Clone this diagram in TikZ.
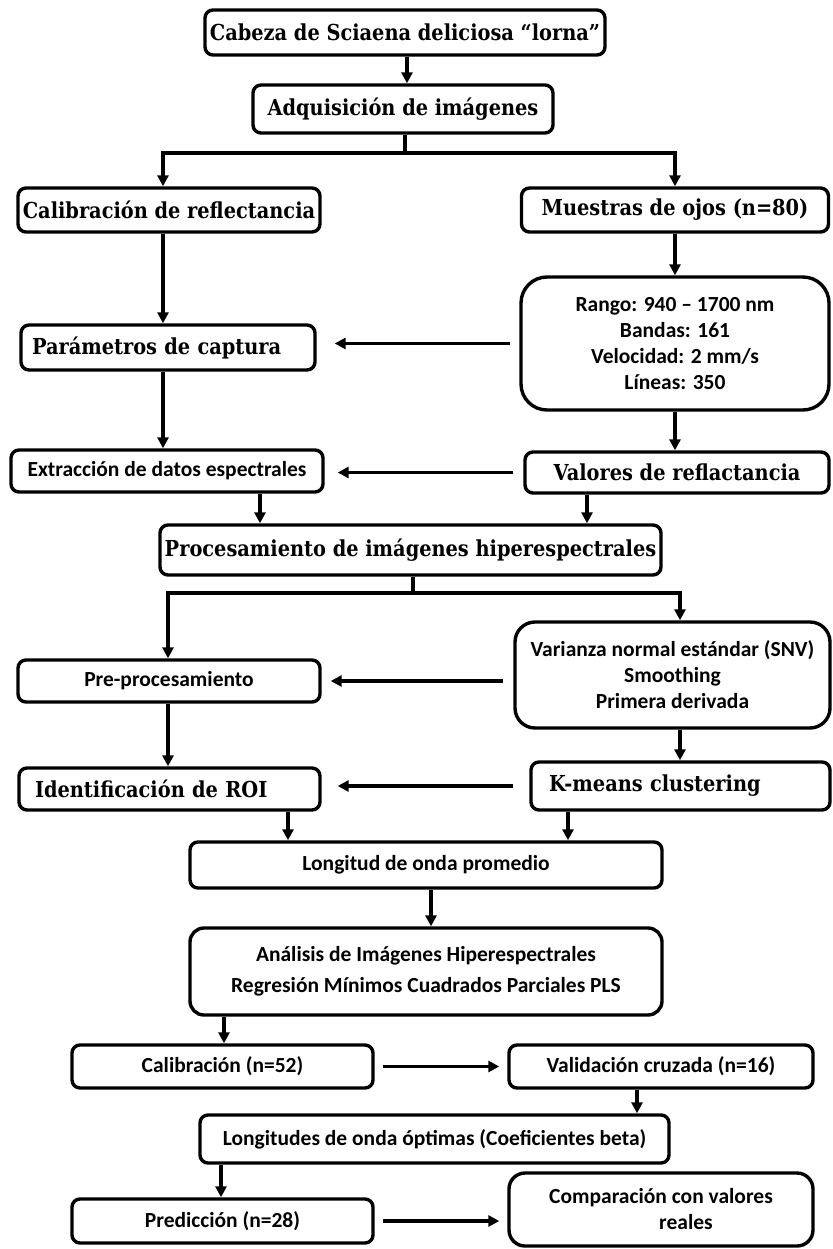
\documentclass[tikz,border=0pt]{standalone}
\usepackage{fontspec}
\setmainfont{Carlito}
\newfontfamily\hfont{DejaVu Serif}[FakeStretch=0.88]
\usetikzlibrary{arrows.meta}
\begin{document}
\begin{tikzpicture}[x=1pt,y=-1pt,
  box/.style={draw,line width=3.4pt,rounded corners=8pt,inner sep=0pt,align=center},
  hb/.style={box,font=\hfont\bfseries\fontsize{22}{26}\selectfont},
  bb/.style={box,font=\bfseries\fontsize{21.5}{26}\selectfont},
  arr/.style={line width=3.1pt,-{Triangle[length=11pt,width=11pt]}},
  ln/.style={line width=3.1pt}]
\fill[white] (0,0) rectangle (832,1249);
\useasboundingbox (0,0) rectangle (832,1249);

% nodes
\node[hb,minimum width=400pt,minimum height=45pt] (cabeza) at (405,32.5) {Cabeza de Sciaena deliciosa “lorna”};
\node[hb,minimum width=300pt,minimum height=48pt] (adq) at (403,109) {Adquisición de imágenes};
\node[hb,minimum width=302pt,minimum height=44pt] (calref) at (169,210) {Calibración de reflectancia};
\node[hb,minimum width=307pt,minimum height=44pt] (muestras) at (675,210) {Muestras de ojos (n=80)};
\node[bb,rounded corners=26pt,minimum width=308pt,minimum height=133pt] (rango) at (675,343.5) {Rango: 940 – 1700 nm\\Bandas: 161\\Velocidad: 2 mm/s\\Líneas: 350};
\node[hb,minimum width=294pt,minimum height=45pt,text width=272pt,align=left] (param) at (168,347.5) {Parámetros de captura};
\node[bb,minimum width=312pt,minimum height=42pt] (extr) at (167,471) {Extracción de datos espectrales};
\node[hb,minimum width=304pt,minimum height=41pt] (valores) at (677,472.5) {Valores de reflactancia};
\node[hb,minimum width=501pt,minimum height=50pt] (proc) at (410.5,550) {Procesamiento de imágenes hiperespectrales};
\node[bb,minimum width=302pt,minimum height=42pt] (preproc) at (169,681) {Pre-procesamiento};
\node[bb,rounded corners=20pt,minimum width=315pt,minimum height=106pt] (varianza) at (672.5,675) {Varianza normal estándar (SNV)\\Smoothing\\Primera derivada};
\node[hb,minimum width=301pt,minimum height=42pt,text width=269pt,align=left] (roi) at (169.5,789) {Identificación de ROI};
\node[hb,minimum width=299pt,minimum height=48pt,text width=263pt,align=left] (kmeans) at (680.5,786) {K-means clustering};
\node[bb,minimum width=472pt,minimum height=46pt] (longitud) at (426,865) {Longitud de onda promedio};
\node[bb,rounded corners=14pt,minimum width=472pt,minimum height=87pt,font=\bfseries\fontsize{21.5}{31}\selectfont] (analisis) at (426,971.5) {Análisis de Imágenes Hiperespectrales\\Regresión Mínimos Cuadrados Parciales PLS};
\node[bb,minimum width=301pt,minimum height=43pt] (calib) at (222.5,1066.5) {Calibración (n=52)};
\node[bb,minimum width=304pt,minimum height=43pt] (valid) at (661,1066.5) {Validación cruzada (n=16)};
\node[bb,minimum width=469pt,minimum height=48pt] (longitudes) at (434.5,1139) {Longitudes de onda óptimas (Coeficientes beta)};
\node[bb,minimum width=301pt,minimum height=44pt] (pred) at (222.5,1221) {Predicción (n=28)};
\node[bb,rounded corners=16pt,minimum width=304pt,minimum height=73pt] (comp) at (661,1209.5) {Comparación con valores\\\hspace*{50pt}reales};

% x positions of vertical connectors
\coordinate (xA) at (407,0);
\coordinate (xL) at (163,0);
\coordinate (xR) at (675,0);
\coordinate (xE) at (260,0);
\coordinate (xV) at (587,0);
\coordinate (xL2) at (168,0);
\coordinate (xR2) at (680,0);
\coordinate (xI) at (288,0);
\coordinate (xK) at (568,0);
\coordinate (xM) at (431,0);
\coordinate (xC) at (224,0);
\coordinate (xVa) at (637,0);
\coordinate (xP) at (221,0);
\coordinate (j1) at (405,153);
\coordinate (j2) at (413,593);

% connectors
\draw[arr] (cabeza.south -| xA) -- (adq.north -| xA);
\draw[ln] (adq.south -| j1) -- (j1);
\draw[arr] (j1) -| (calref.north -| xL);
\draw[arr] (j1) -| (muestras.north -| xR);
\draw[arr] (calref.south -| xL) -- (param.north -| xL);
\draw[arr] (muestras.south -| xR) -- (rango.north -| xR);
\draw[arr,shorten <=9pt,shorten >=18pt] (rango.west) -- (rango.west -| param.east);
\draw[arr] (param.south -| xL) -- (extr.north -| xL);
\draw[arr] (rango.south -| xR) -- (valores.north -| xR);
\draw[arr,shorten <=10pt,shorten >=13pt] (valores.west) -- (valores.west -| extr.east);
\draw[arr] (extr.south -| xE) -- (proc.north -| xE);
\draw[arr] (valores.south -| xV) -- (proc.north -| xV);
\draw[ln] (proc.south -| j2) -- (j2);
\draw[arr] (j2) -| (preproc.north -| xL2);
\draw[arr] (j2) -| (varianza.north -| xR2);
\draw[arr,shorten <=10pt,shorten >=9pt] (varianza.west |- preproc.east) -- (preproc.east);
\draw[arr] (varianza.south -| xR2) -- (kmeans.north -| xR2);
\draw[arr] (preproc.south -| xL2) -- (roi.north -| xL2);
\draw[arr,shorten <=16pt,shorten >=16pt] (kmeans.west) -- (kmeans.west -| roi.east);
\draw[arr] (roi.south -| xI) -- (longitud.north -| xI);
\draw[arr] (kmeans.south -| xK) -- (longitud.north -| xK);
\draw[arr] (longitud.south -| xM) -- (analisis.north -| xM);
\draw[arr] (analisis.south -| xC) -- (calib.north -| xC);
\draw[arr,shorten <=8pt,shorten >=8pt] (calib.east) -- (valid.west);
\draw[arr] (valid.south -| xVa) -- (longitudes.north -| xVa);
\draw[arr] (longitudes.south -| xP) -- (pred.north -| xP);
\draw[arr,shorten <=8pt,shorten >=8pt] (pred.east) -- (pred.east -| comp.west);
\end{tikzpicture}
\end{document}
